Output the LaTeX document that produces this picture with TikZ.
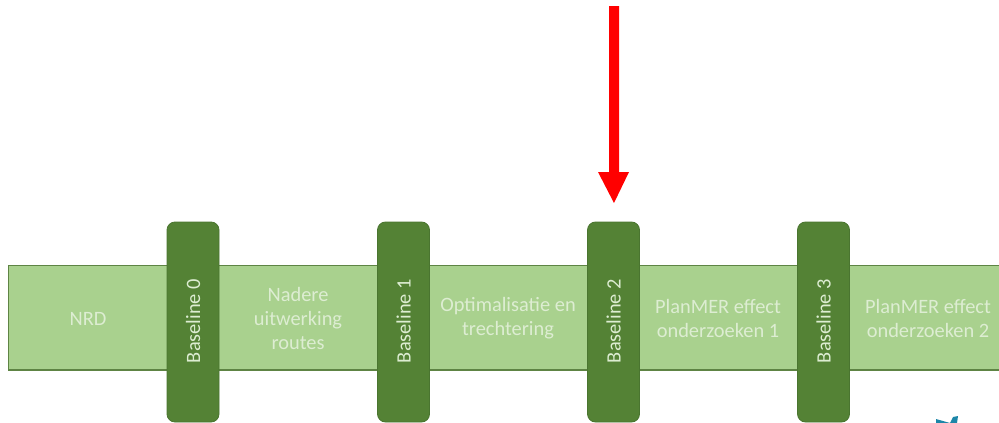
\documentclass[tikz,border=0pt]{standalone}
\usepackage{fontspec}
\setmainfont{Carlito}
\definecolor{bandfill}{HTML}{A9D18E}
\definecolor{bandline}{HTML}{5E8444}
\definecolor{pillfill}{HTML}{548235}
\definecolor{pillline}{HTML}{4A7530}
\definecolor{softwhite}{HTML}{DDEDD2}
\definecolor{teal}{HTML}{1C86A8}
\tikzset{
  band/.style={draw=bandline,line width=1.5pt,fill=bandfill},
  pill/.style={draw=pillline,line width=.8pt,fill=pillfill,rounded corners=8pt,minimum width=52pt,minimum height=200pt,inner sep=0pt,anchor=center},
  pilltext/.style={text=softwhite,font=\fontsize{20.4}{24}\selectfont,rotate=90,inner sep=0pt,anchor=center},
  phase/.style={text=softwhite,font=\fontsize{20.4}{24.2}\selectfont,align=center,inner sep=0pt,anchor=center},
  redarrow/.style={fill=red,draw=none}
}
\begin{document}
\begin{tikzpicture}[x=1pt,y=-1pt]
\useasboundingbox (0,0) rectangle (999,423);
\fill[white] (0,0) rectangle (999,423);
\draw[band] (1005,265.5) -- (8.5,265.5) -- (8.5,370) -- (1005,370);
\node[pill] (b0) at (193,322) {};
\node[pill] (b1) at (403.5,322) {};
\node[pill] (b2) at (613.5,322) {};
\node[pill] (b3) at (823.5,322) {};
\node[pilltext] (t0) at (193,321) {Baseline 0};
\node[pilltext] (t1) at (403.5,321) {Baseline 1};
\node[pilltext] (t2) at (613.5,321) {Baseline 2};
\node[pilltext] (t3) at (823.5,321) {Baseline 3};
\node[phase] (p0) at (88,318.5) {NRD};
\node[phase] (p1) at (298,318.5) {Nadere\\uitwerking\\routes};
\node[phase] (p2) at (508,318.5) {Optimalisatie en\\trechtering};
\node[phase] (p3) at (718,318.5) {PlanMER effect\\onderzoeken 1};
\node[phase] (p4) at (928,318.5) {PlanMER effect\\onderzoeken 2};
\fill[redarrow] (609,6) -- (619,6) -- (619,172) -- (629,172) -- (614,203) -- (598,172) -- (609,172) -- cycle;
\fill[teal] (936,419) -- (950,423) -- (936,423) -- cycle;
\fill[teal] (950,423) -- (953,417) -- (958,416) -- (957,423) -- cycle;
\end{tikzpicture}
\end{document}
